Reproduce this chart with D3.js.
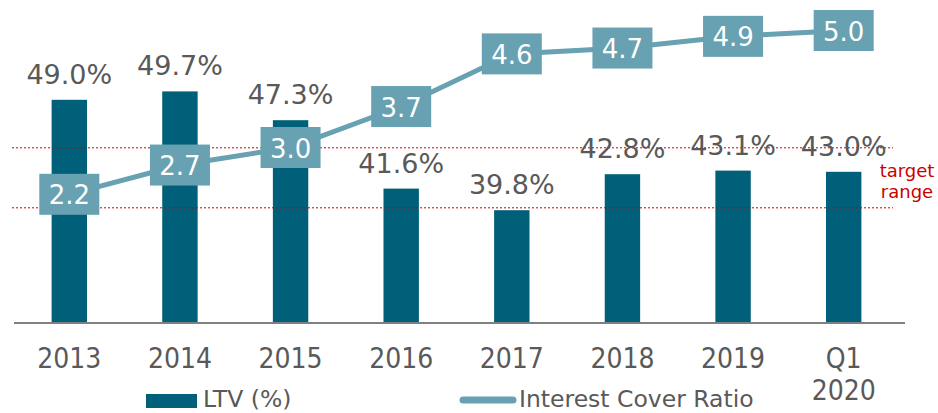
<!DOCTYPE html>
<html lang="en">
<head>
<meta charset="utf-8">
<title>LTV and Interest Cover Ratio</title>
<script src="https://d3js.org/d3.v7.min.js"></script>
<style>
  body { margin: 0; background: #fff; }
  svg { display: block; }
  .lbl { font-family: "DejaVu Sans", Verdana, sans-serif; }
  .cond { font-family: "DejaVu Sans Condensed", "DejaVu Sans", sans-serif; font-stretch: condensed; }
</style>
</head>
<body>
<svg width="938" height="413"></svg>
<script>

// data
var years = ["2013", "2014", "2015", "2016", "2017", "2018", "2019", "Q1\n2020"];
var ltv = [49.0, 49.7, 47.3, 41.6, 39.8, 42.8, 43.1, 43.0];
var icr = [2.2, 2.7, 3.0, 3.7, 4.6, 4.7, 4.9, 5.0];
var targetRange = [40, 45];

var barColor = "#005f79",
    lineColor = "#67a1b2",
    grey = "#595959",
    red = "#cc0000";

var svg = d3.select("svg");

var x = d3.scaleBand()
    .domain(years)
    .range([14, 899])
    .paddingInner(0.68)
    .paddingOuter(0.34);

var yLtv = d3.scaleLinear().domain([30.4, 50]).range([323, 87.8]);
var yIcr = d3.scaleLinear().domain([0, 5]).range([323, 30.5]);

var cx = function(d) { return x(d) + x.bandwidth() / 2; };

// bars
svg.append("g").selectAll("rect")
    .data(years)
    .enter().append("rect")
    .attr("x", function(d) { return x(d); })
    .attr("width", x.bandwidth())
    .attr("y", function(d, i) { return yLtv(ltv[i]); })
    .attr("height", function(d, i) { return yLtv.range()[0] - yLtv(ltv[i]); })
    .attr("fill", barColor);

// target range lines
svg.append("g").selectAll("line")
    .data(targetRange)
    .enter().append("line")
    .attr("x1", 12).attr("x2", 893)
    .attr("y1", function(d) { return yLtv(d); })
    .attr("y2", function(d) { return yLtv(d); })
    .attr("stroke", red)
    .attr("stroke-width", 1)
    .attr("stroke-dasharray", "2,2");

svg.append("text")
    .attr("class", "lbl")
    .attr("text-anchor", "middle")
    .attr("font-size", 18)
    .attr("fill", red)
    .selectAll("tspan")
    .data(["target", "range"])
    .enter().append("tspan")
    .attr("x", 907)
    .attr("y", function(d, i) { return 177 + i * 21; })
    .text(function(d) { return d; });

// LTV labels
svg.append("g").selectAll("text")
    .data(years)
    .enter().append("text")
    .attr("class", "lbl")
    .attr("x", cx)
    .attr("y", function(d, i) { return yLtv(ltv[i]) - 16; })
    .attr("text-anchor", "middle")
    .attr("font-size", 27)
    .attr("fill", grey)
    .text(function(d, i) { return ltv[i].toFixed(1) + "%"; });

// x axis
var xAxis = svg.append("g")
    .attr("transform", "translate(0,323)")
    .call(d3.axisBottom(x).tickSize(0).tickFormat(""));
xAxis.select(".domain").remove();
xAxis.append("line")
    .attr("x1", 14).attr("x2", 905)
    .attr("stroke", "#808080").attr("stroke-width", 2);

svg.append("g").selectAll("text")
    .data(years)
    .enter().append("text")
    .attr("class", "cond")
    .attr("text-anchor", "middle")
    .attr("font-size", 28)
    .attr("fill", grey)
    .each(function(d) {
      var t = d3.select(this);
      d.split("\n").forEach(function(s, i) {
        t.append("tspan").attr("x", cx(d)).attr("y", 368 + i * 32).text(s);
      });
    });

// ICR line
var line = d3.line()
    .x(function(d, i) { return cx(years[i]); })
    .y(function(d) { return yIcr(d); });

svg.append("path")
    .datum(icr)
    .attr("d", line)
    .attr("fill", "none")
    .attr("stroke", lineColor)
    .attr("stroke-width", 5);

var box = svg.append("g").selectAll("g")
    .data(icr)
    .enter().append("g")
    .attr("transform", function(d, i) { return "translate(" + cx(years[i]) + "," + yIcr(d) + ")"; });

box.append("rect")
    .attr("x", -30).attr("y", -20.5)
    .attr("width", 60).attr("height", 41)
    .attr("fill", lineColor);

box.append("text")
    .attr("class", "lbl")
    .attr("text-anchor", "middle")
    .attr("y", 10)
    .attr("font-size", 26)
    .attr("fill", "#fff")
    .text(function(d) { return d.toFixed(1); });

// legend
var legend = svg.append("g");
legend.append("rect")
    .attr("x", 146).attr("y", 394)
    .attr("width", 51).attr("height", 14)
    .attr("fill", barColor);
legend.append("text")
    .attr("class", "lbl")
    .attr("x", 203).attr("y", 407)
    .attr("font-size", 23.5)
    .attr("fill", grey)
    .text("LTV (%)");
legend.append("line")
    .attr("x1", 463).attr("x2", 513)
    .attr("y1", 400).attr("y2", 400)
    .attr("stroke", lineColor)
    .attr("stroke-width", 7)
    .attr("stroke-linecap", "round");
legend.append("text")
    .attr("class", "lbl")
    .attr("x", 519).attr("y", 407)
    .attr("font-size", 23.5)
    .attr("fill", grey)
    .text("Interest Cover Ratio");

</script>
</body>
</html>
